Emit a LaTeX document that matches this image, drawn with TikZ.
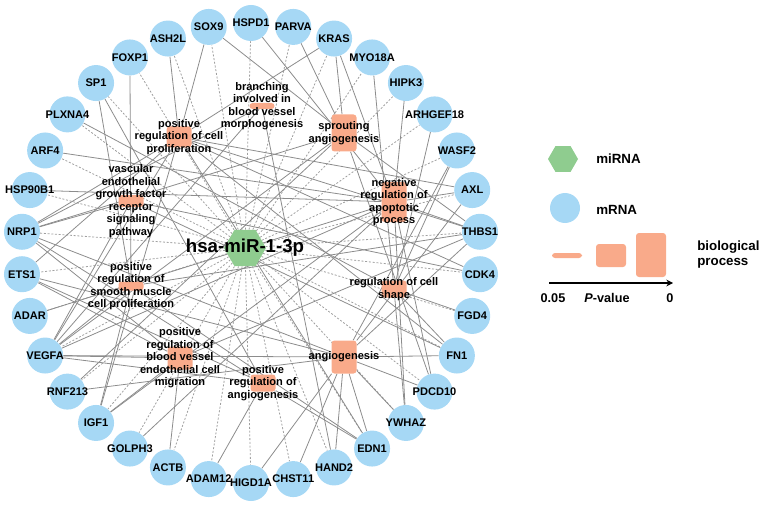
\documentclass[tikz,border=0pt]{standalone}
\usepackage{fontspec}
\setmainfont{Liberation Sans}
\usetikzlibrary{shapes.geometric,arrows.meta,backgrounds}

\newlength{\px}
\setlength{\px}{0.75pt}

\definecolor{mrnacolor}{RGB}{166,216,245}
\definecolor{mirnacolor}{RGB}{143,204,143}
\definecolor{gocolor}{RGB}{249,170,138}
\definecolor{edgecolor}{RGB}{140,140,140}
\definecolor{dashcolor}{RGB}{160,160,160}

\newcommand{\genelist}{HSPD1,PARVA,KRAS,MYO18A,HIPK3,ARHGEF18,WASF2,AXL,THBS1,CDK4,FGD4,FN1,PDCD10,YWHAZ,EDN1,HAND2,CHST11,HIGD1A,ADAM12,ACTB,GOLPH3,IGF1,RNF213,VEGFA,ADAR,ETS1,NRP1,HSP90B1,ARF4,PLXNA4,SP1,FOXP1,ASH2L,SOX9}

\tikzset{
  genetext/.style={font=\fontsize{8.3}{9.6}\selectfont\bfseries,inner sep=0pt},
  mrna/.style={circle,fill=mrnacolor,minimum size=36\px,inner sep=0pt,label={[genetext]center:#1}},
  hexnode/.style={regular polygon,regular polygon sides=6,fill=mirnacolor,inner sep=0pt,minimum size=#1},
  gonode/.style={rectangle,rounded corners=3\px,fill=gocolor,inner sep=0pt,minimum width=25\px},
  gotext/.style={font=\fontsize{8.3}{9.4}\selectfont\bfseries,align=center,inner sep=0pt},
  goedge/.style={draw=edgecolor,line width=0.6pt},
  hubedge/.style={draw=dashcolor,line width=0.6pt,dash pattern=on 1.5pt off 1.3pt},
  legendtext/.style={font=\fontsize{10}{11.25}\selectfont\bfseries,anchor=west,align=left,inner sep=0pt},
  pvaltext/.style={font=\fontsize{9.5}{11}\selectfont\bfseries,inner sep=0pt}
}

\begin{document}
\begin{tikzpicture}[x=\px,y=-\px]
\useasboundingbox (0,0) rectangle (760,506);

% mRNA ring
\foreach \g [count=\k from 0] in \genelist {
  \pgfmathsetmacro{\a}{90-\k*360/34}
  \node[mrna=\g] (\g) at ({251+230*cos(\a)},{253-230*sin(\a)}) {};
}

% biological processes
\node[gonode,minimum height=21\px] (cellprolif) at (179,137) {};
\node[gotext] at (cellprolif) {positive\\regulation of cell\\proliferation};
\node[gonode,minimum height=6\px] (branching) at (262,106) {};
\node[gotext] at (branching) {branching\\involved in\\blood vessel\\morphogenesis};
\node[gonode,minimum height=37\px] (sprouting) at (344,133) {};
\node[gotext] at (sprouting) {sprouting\\angiogenesis};
\node[gonode,minimum height=40\px] (apoptosis) at (394,202) {};
\node[gotext] at (apoptosis) {negative\\regulation of\\apoptotic\\process};
\node[gonode,minimum height=12\px] (vegfr) at (131,201) {};
\node[gotext] at (vegfr) {vascular\\endothelial\\growth factor\\receptor\\signaling\\pathway};
\node[gonode,minimum height=9\px] (smoothmuscle) at (131,286) {};
\node[gotext] at (smoothmuscle) {positive\\regulation of\\smooth muscle\\cell proliferation};
\node[gonode,minimum height=17\px] (cellshape) at (394,289) {};
\node[gotext] at (cellshape) {regulation of cell\\shape};
\node[gonode,minimum height=23\px] (ecmigration) at (180,358) {};
\node[gotext] at (ecmigration) {positive\\regulation of\\blood vessel\\endothelial cell\\migration};
\node[gonode,minimum height=33\px] (angiogenesis) at (344,357) {};
\node[gotext] at (angiogenesis) {angiogenesis};
\node[gonode,minimum height=17\px] (posangio) at (263,383) {};
\node[gotext] at (posangio) {positive\\regulation of\\angiogenesis};

% miRNA
\node[hexnode=42\px] (mir) at (245,248) {};
\node[font=\fontsize{14}{16}\selectfont\bfseries,inner sep=0pt] at (mir) {hsa-miR-1-3p};

\begin{pgfonlayer}{background}
\foreach \g in \genelist
  \draw[hubedge] (mir) -- (\g);
\foreach \p/\gl in {cellprolif/{SOX9,ASH2L,KRAS,ETS1,NRP1,VEGFA,IGF1,CDK4,EDN1,AXL,THBS1,FN1},
    branching/{VEGFA,NRP1,HAND2},
    sprouting/{SOX9,PARVA,KRAS,RNF213,NRP1,VEGFA,THBS1,PDCD10},
    apoptosis/{HSPD1,HIPK3,ARF4,HSP90B1,ADAR,AXL,THBS1,PDCD10,YWHAZ,IGF1,VEGFA,KRAS,GOLPH3},
    vegfr/{NRP1,VEGFA,FN1,CDK4},
    smoothmuscle/{FOXP1,SP1,IGF1,VEGFA,EDN1,THBS1},
    cellshape/{PLXNA4,MYO18A,ARHGEF18,WASF2,FGD4,FN1,YWHAZ},
    ecmigration/{VEGFA,NRP1,ETS1,IGF1,ACTB,THBS1},
    angiogenesis/{VEGFA,NRP1,ETS1,RNF213,HAND2,EDN1,CHST11,HIGD1A,PDCD10,FN1,YWHAZ,THBS1,AXL,WASF2},
    posangio/{VEGFA,NRP1,ETS1,SP1,ADAM12,EDN1}}
  \foreach \g in \gl
    \draw[goedge] (\p) -- (\g);
\end{pgfonlayer}

% legend
\node[hexnode=30\px] (leghex) at (563,159) {};
\node[legendtext] (legmirna) at (596,159) {miRNA};
\node[circle,fill=mrnacolor,minimum size=30\px,inner sep=0pt] (legcircle) at (565,208) {};
\node[legendtext] (legmrna) at (596,210) {mRNA};
\node[gonode,minimum width=30\px,minimum height=5\px] (legsmall) at (567,255.5) {};
\node[gonode,minimum width=30\px,minimum height=23\px] (legmid) at (611,255.5) {};
\node[gonode,minimum width=30\px,minimum height=44\px] (legbig) at (651,255) {};
\node[legendtext] (legbp) at (697,254.5) {biological\\process};
\coordinate (pmin) at (549,283);
\coordinate (pmax) at (673,283);
\draw[line width=1.8pt,-{Stealth[length=5pt,width=5pt]}] (pmin) -- (pmax);
\node[pvaltext] (plow) at (553,298) {0.05};
\node[pvaltext] (pname) at (607,298) {\textit{P}-value};
\node[pvaltext] (phigh) at (670,298) {0};
\end{tikzpicture}
\end{document}
